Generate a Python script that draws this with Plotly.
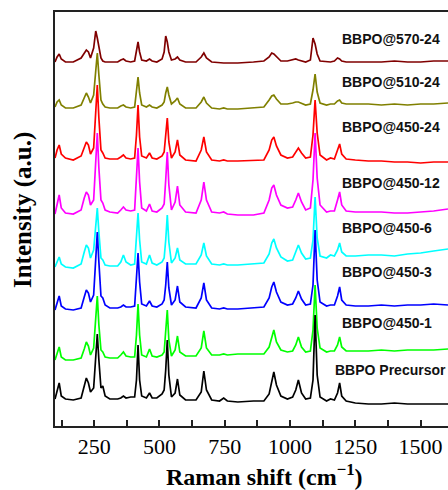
import plotly.graph_objects as go

# Raman shift grid (cm^-1)
raman_shift = [
    100, 108, 116, 124, 140, 170, 200, 212, 220, 228,
    236, 248, 256, 262, 268, 276, 283, 292, 310, 340,
    352, 362, 372, 390, 405, 412, 418, 424, 432, 450,
    462, 472, 490, 510, 518, 524, 530, 536, 546, 560,
    569, 578, 600, 640, 660, 670, 680, 700, 730, 746,
    760, 800, 860, 900, 920, 930, 938, 948, 965, 990,
    1010, 1022, 1032, 1044, 1060, 1078, 1088, 1096, 1104, 1115,
    1140, 1155, 1170, 1182, 1190, 1198, 1215, 1250, 1300, 1350,
    1400, 1450, 1500, 1550, 1605]

# Stacked intensities (a.u., offset for clarity)
bbpo_570_24 = [
    364, 369, 372, 367, 364, 364, 368, 373, 376, 374,
    368, 378, 395, 388, 378, 368, 365, 364, 364, 364,
    366, 367, 365, 364, 365, 376, 384, 374, 366, 365,
    367, 365, 364, 367, 374, 390, 384, 374, 366, 367,
    369, 366, 364, 364, 369, 373, 368, 364, 363, 363,
    363, 363, 364, 365, 369, 373, 372, 369, 365, 365,
    366, 367, 366, 365, 364, 366, 388, 382, 372, 365,
    364, 364, 365, 368, 367, 365, 364, 364, 364, 364,
    365, 364, 364, 365, 365]
bbpo_510_24 = [
    319, 324, 326, 321, 318, 318, 321, 329, 333, 329,
    323, 331, 356, 373, 351, 326, 322, 319, 318, 318,
    320, 321, 319, 318, 319, 334, 349, 333, 321, 319,
    321, 319, 318, 321, 324, 333, 339, 331, 322, 325,
    328, 322, 318, 318, 324, 329, 323, 318, 317, 318,
    317, 317, 318, 319, 326, 330, 331, 327, 322, 322,
    323, 324, 324, 323, 321, 322, 336, 352, 334, 323,
    321, 322, 322, 325, 326, 323, 322, 322, 322, 321,
    322, 321, 322, 322, 323]
bbpo_450_24 = [
    268, 276, 281, 272, 268, 266, 270, 279, 284, 281,
    272, 278, 311, 341, 308, 276, 273, 268, 267, 267,
    269, 271, 268, 267, 268, 291, 321, 289, 270, 268,
    273, 268, 267, 270, 274, 288, 308, 284, 268, 274,
    286, 271, 266, 265, 276, 289, 274, 266, 265, 266,
    265, 265, 266, 266, 276, 286, 289, 280, 271, 268,
    269, 274, 278, 273, 268, 269, 291, 326, 293, 271,
    266, 268, 267, 276, 282, 272, 267, 266, 265, 265,
    264, 264, 263, 264, 264]
bbpo_450_12 = [
    212, 223, 231, 218, 213, 212, 216, 228, 234, 231,
    221, 226, 261, 293, 258, 226, 223, 216, 214, 213,
    216, 219, 216, 215, 216, 246, 278, 244, 218, 215,
    222, 215, 214, 218, 222, 246, 274, 241, 216, 224,
    240, 221, 214, 213, 226, 244, 226, 214, 213, 214,
    212, 211, 211, 213, 226, 238, 241, 231, 221, 218,
    219, 226, 233, 224, 216, 218, 246, 293, 248, 221,
    214, 215, 215, 226, 234, 221, 215, 214, 214, 214,
    213, 213, 214, 215, 217]
bbpo_450_6 = [
    159, 164, 169, 162, 159, 158, 162, 174, 181, 178,
    168, 176, 196, 218, 194, 168, 166, 161, 160, 160,
    164, 171, 164, 161, 162, 186, 213, 186, 164, 162,
    171, 163, 161, 164, 168, 186, 211, 184, 163, 168,
    178, 166, 162, 162, 171, 183, 170, 162, 161, 162,
    161, 161, 162, 163, 172, 183, 187, 178, 169, 165,
    166, 174, 181, 173, 167, 168, 186, 229, 188, 170,
    168, 171, 170, 176, 183, 174, 170, 170, 171, 171,
    170, 172, 173, 175, 177]
bbpo_450_3 = [
    116, 123, 130, 120, 117, 116, 118, 129, 136, 133,
    124, 131, 166, 194, 164, 130, 128, 121, 118, 118,
    119, 121, 119, 119, 120, 146, 173, 144, 122, 120,
    125, 120, 119, 122, 126, 141, 164, 138, 121, 126,
    140, 124, 119, 118, 128, 143, 126, 118, 117, 118,
    117, 117, 118, 119, 128, 139, 144, 134, 124, 121,
    122, 128, 135, 127, 121, 122, 141, 196, 146, 124,
    120, 121, 121, 130, 139, 126, 121, 120, 120, 121,
    120, 121, 121, 122, 121]
bbpo_450_1 = [
    66, 73, 79, 69, 66, 66, 68, 77, 84, 80,
    71, 78, 106, 130, 101, 76, 74, 69, 68, 68,
    71, 74, 70, 69, 69, 91, 122, 91, 71, 69,
    77, 70, 69, 71, 74, 91, 116, 86, 70, 76,
    90, 74, 70, 70, 78, 95, 78, 71, 71, 72,
    71, 72, 72, 72, 79, 90, 96, 84, 76, 74,
    75, 81, 89, 79, 74, 75, 96, 141, 98, 78,
    74, 75, 75, 81, 89, 79, 75, 75, 75, 76,
    75, 76, 76, 76, 77]
bbpo_precursor = [
    27, 34, 43, 30, 27, 26, 28, 40, 48, 43,
    34, 38, 66, 92, 66, 38, 40, 30, 27, 27,
    28, 30, 28, 29, 29, 46, 81, 46, 30, 28,
    33, 28, 28, 32, 36, 56, 86, 51, 29, 33,
    47, 31, 26, 26, 34, 55, 36, 26, 25, 28,
    25, 24, 25, 25, 32, 46, 54, 41, 30, 27,
    29, 36, 46, 33, 27, 28, 46, 111, 51, 29,
    25, 27, 26, 33, 43, 30, 25, 23, 22, 22,
    23, 22, 22, 22, 22]

sample_names = ["BBPO@570-24", "BBPO@510-24", "BBPO@450-24", "BBPO@450-12",
                "BBPO@450-6", "BBPO@450-3", "BBPO@450-1", "BBPO Precursor"]
series = [bbpo_570_24, bbpo_510_24, bbpo_450_24, bbpo_450_12,
          bbpo_450_6, bbpo_450_3, bbpo_450_1, bbpo_precursor]
colors = ["#800000", "#808000", "#FF0000", "#FF00FF",
          "#00FFFF", "#0000FF", "#00FF00", "#000000"]
label_y = [387, 344, 299, 243, 198, 154, 103, 56]
label_x = [1191, 1191, 1191, 1191, 1191, 1191, 1191, 1165]

fig = go.Figure()
for name, vals, col in zip(sample_names, series, colors):
    fig.add_trace(go.Scatter(x=raman_shift, y=vals, mode="lines", name=name,
                             line=dict(color=col, width=1.7)))

for name, lx, ly in zip(sample_names, label_x, label_y):
    fig.add_annotation(x=lx, y=ly, xref="x", yref="y", text="<b>" + name + "</b>",
                       showarrow=False, xanchor="left", yanchor="middle",
                       font=dict(family="Liberation Sans, Arial", size=14, color="#111"))

fig.add_annotation(x=0.534, y=-0.118, xref="paper", yref="paper",
                   text="<b>Raman shift (cm<sup>\u22121</sup>)</b>", showarrow=False,
                   xanchor="center", yanchor="middle",
                   font=dict(family="Liberation Serif, Times New Roman", size=24, color="#000"))
fig.add_annotation(x=-0.081, y=0.522, xref="paper", yref="paper",
                   text="<b>Intensity (a.u.)</b>", showarrow=False, textangle=-90,
                   xanchor="center", yanchor="middle",
                   font=dict(family="Liberation Serif, Times New Roman", size=25, color="#000"))

fig.update_layout(
    width=448, height=490,
    margin=dict(l=55, r=0, t=12, b=64),
    paper_bgcolor="white", plot_bgcolor="white",
    showlegend=False,
    xaxis=dict(range=[100, 1605], tick0=0, dtick=250, ticks="inside", ticklen=6,
               tickwidth=1.5, tickcolor="#222", showline=True, linewidth=2,
               linecolor="#222", mirror=True, showgrid=False, zeroline=False,
               automargin=False,
               tickfont=dict(family="Liberation Serif, Times New Roman", size=22, color="#000"),
               minor=dict(ticks="inside", ticklen=6, dtick=125, tickwidth=1.5,
                          tickcolor="#222", showgrid=False)),
    yaxis=dict(range=[0, 414], showticklabels=False, ticks="", showline=True,
               automargin=False,
               linewidth=2, linecolor="#222", showgrid=False, zeroline=False),
)

fig.write_html("out.html", config={"displayModeBar": False},
               post_script="document.body.style.margin='0';document.body.style.overflow='hidden';")
